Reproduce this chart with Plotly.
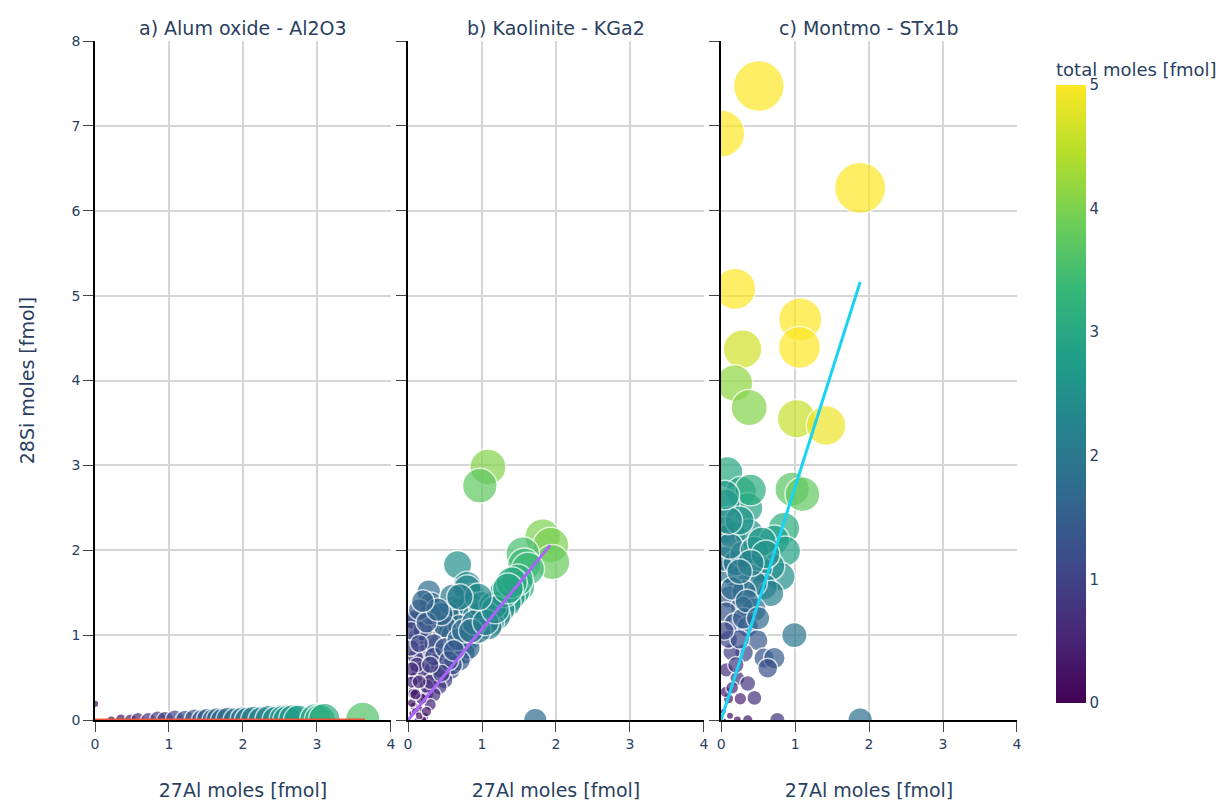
import numpy as np
import plotly.graph_objects as go
from plotly.subplots import make_subplots

titles = ["a) Alum oxide - Al2O3", "b) Kaolinite - KGa2", "c) Montmo - STx1b"]

# Panel a: Al2O3
a_al = [0.0, 0.22, 0.35, 0.48, 0.58, 0.72, 0.85, 0.95, 1.08, 1.22, 1.35, 1.45, 1.52, 1.6,
        1.66, 1.72, 1.8, 1.9, 2.0, 2.06, 2.15, 2.25, 2.35, 2.45, 2.55, 2.6, 2.68, 2.75,
        2.98, 3.04, 3.1, 3.62]
a_si = [0.19, 0.0, 0.01, 0.0, 0.01, 0.0, 0.01, 0.0, 0.01, 0.0, 0.01, 0.0, 0.01, 0.0,
        0.01, 0.0, 0.01, 0.0, 0.01, 0.0, 0.01, 0.0, 0.01, 0.0, 0.01, 0.0, 0.01, 0.0,
        0.01, 0.0, 0.01, 0.01]

# Panel b: Kaolinite
b_al = [1.08, 0.97, 1.82, 1.93, 1.95, 1.55, 1.57, 1.62, 1.5, 1.44, 1.38, 1.33, 1.25, 1.2,
        1.12, 1.09, 0.67, 0.8, 0.87, 0.8, 0.28, 0.33, 0.31, 0.6, 0.71, 0.85, 0.53, 0.91,
        1.0, 0.42, 0.1, 0.08, 0.4, 0.55, 0.6, 0.13, 0.85, 0.78, 0.28, 0.46, 0.64, 0.76,
        0.82, 0.22, 0.45, 0.1, 0.33, 0.51, 0.58, 0.13, 0.11, 0.31, 0.49, 0.42, 0.08, 0.07,
        0.24, 0.26, 0.35, 0.08, 0.22, 0.05, 0.15, 0.3, 0.02, 0.12, 0.2, 1.72, 0.7, 0.5,
        0.2, 0.35, 0.65, 0.95, 0.7, 0.6, 1.0, 0.4, 0.25, 0.18, 0.05, 0.04, 0.04, 0.3,
        0.15, 0.6, 1.15, 1.3, 1.48, 1.4,
        0.15, 0.2, 0.35, 0.5, 0.55, 0.68, 0.75, 0.9, 0.45, 0.25, 0.12, 0.3, 0.45, 0.62,
        0.85, 1.05, 1.18, 1.35, 0.95, 0.7, 0.4, 0.2, 0.05, 0.15, 0.3, 0.05, 0.1, 0.15,
        0.25, 0.1]
b_si = [2.98, 2.76, 2.16, 2.06, 1.86, 1.96, 1.83, 1.78, 1.57, 1.52, 1.45, 1.38, 1.3, 1.22,
        1.15, 1.1, 1.83, 1.59, 1.45, 1.55, 1.51, 1.33, 1.37, 1.31, 1.3, 1.35, 1.26, 1.22,
        1.25, 1.14, 1.16, 1.18, 1.14, 1.02, 1.0, 0.98, 0.98, 0.9, 0.95, 0.79, 0.75, 0.79,
        0.85, 0.79, 0.75, 0.74, 0.59, 0.55, 0.59, 0.59, 0.5, 0.51, 0.47, 0.39, 0.35, 0.31,
        0.27, 0.31, 0.3, 0.16, 0.04, 0.08, 0.12, 0.18, 0.02, 0.0, 0.0, 0.0, 1.1, 1.1,
        1.05, 0.9, 0.9, 1.05, 0.7, 0.65, 1.35, 0.6, 0.4, 0.25, 0.45, 0.85, 1.05, 1.25,
        1.3, 1.45, 1.35, 1.5, 1.65, 1.62,
        0.9, 0.6, 0.75, 0.85, 0.7, 0.95, 1.05, 1.15, 1.25, 1.15, 0.65, 0.45, 0.55, 0.82,
        1.05, 1.15, 1.3, 1.55, 1.45, 1.45, 1.3, 1.4, 0.6, 0.45, 0.65, 0.2, 0.1, 0.05,
        0.1, 0.3]

# Panel c: Montmorillonite
c_al = [0.51, 0.0, 1.88, 0.19, 1.07, 1.06, 0.29, 0.18, 0.38, 1.02, 1.42, 0.96, 1.1, 0.085,
        0.27, 0.36, 0.4, 0.06, 0.04, 0.15, 0.38, 0.85, 0.72, 0.87, 0.81, 0.67, 0.51, 0.58,
        0.67, 0.45, 0.22, 0.08, 0.11, 0.31, 0.45, 0.28, 0.07, 0.18, 0.36, 0.49, 0.99, 0.58,
        0.72, 0.63, 0.31, 0.14, 0.07, 0.22, 0.36, 0.45, 0.26, 0.1, 0.06, 0.36, 0.22, 0.76,
        1.88, 0.03, 0.12, 0.05, 0.15, 0.2, 0.1, 0.25, 0.05, 0.3, 0.15, 0.05, 0.2, 0.3,
        0.12, 0.25, 0.45, 0.55, 0.6, 0.4, 0.35, 0.5, 0.25, 0.1, 0.05]
c_si = [7.47, 6.91, 6.27, 5.08, 4.72, 4.39, 4.37, 3.97, 3.68, 3.55, 3.47, 2.72, 2.66, 2.92,
        2.69, 2.5, 2.71, 2.55, 2.24, 2.18, 2.2, 2.26, 2.12, 1.99, 1.69, 1.81, 1.79, 1.57,
        1.49, 1.61, 1.65, 1.75, 1.45, 1.51, 1.3, 1.33, 1.27, 1.14, 1.1, 0.94, 1.0, 0.73,
        0.73, 0.61, 0.79, 0.8, 0.59, 0.49, 0.43, 0.26, 0.25, 0.25, 0.33, 0.0, 0.0, 0.0,
        0.0, 0.1, 0.05, 0.0, 0.38, 0.65, 0.95, 0.95, 1.05, 1.2, 1.55, 1.9, 1.85, 1.95,
        2.05, 2.35, 2.0, 2.1, 1.95, 1.85, 1.4, 1.2, 1.75, 2.35, 2.65]

# Regression line end points
fit_x = [[0.0, 3.65], [0.0, 1.92], [0.0, 1.88]]
fit_y = [[0.0, 0.0], [0.0, 2.06], [0.0, 5.16]]
fit_colors = ["#EF553B", "#AB63FA", "#19D3F3"]

panels = [(a_al, a_si), (b_al, b_si), (c_al, c_si)]

fig = make_subplots(rows=1, cols=3, shared_yaxes=True, subplot_titles=titles,
                    horizontal_spacing=0.0186)

for i, (xs, ys) in enumerate(panels):
    xs = np.array(xs, dtype=float)
    ys = np.array(ys, dtype=float)
    tot = xs + ys
    sizes = 18.0 * np.sqrt(tot)
    fig.add_trace(go.Scatter(
        x=xs, y=ys, mode="markers",
        marker=dict(size=sizes, color=tot, coloraxis="coloraxis", opacity=0.7,
                    line=dict(color="white", width=1.5)),
        showlegend=False), row=1, col=i + 1)

for i in range(3):
    fig.add_trace(go.Scatter(x=fit_x[i], y=fit_y[i], mode="lines",
                             line=dict(color=fit_colors[i], width=3),
                             showlegend=False), row=1, col=i + 1)

font_col = "#2a3f5f"
for i in range(1, 4):
    fig.update_xaxes(range=[0, 4], dtick=1, showline=True, linecolor="black", linewidth=1.5,
                     ticks="outside", ticklen=10, tickcolor="#444", showgrid=True,
                     gridcolor="#d6d6d6", gridwidth=1.5, zeroline=False, automargin=False,
                     title=dict(text="27Al moles [fmol]", font=dict(size=19, color=font_col),
                                standoff=33),
                     tickfont=dict(size=14, color=font_col), row=1, col=i)
    fig.update_yaxes(range=[0, 8], dtick=1, showline=True, linecolor="black", linewidth=1.5,
                     ticks="outside", ticklen=10, tickcolor="#444", showgrid=True,
                     gridcolor="#d6d6d6", gridwidth=1.5, zeroline=False, automargin=False,
                     tickfont=dict(size=14, color=font_col), row=1, col=i)
fig.update_yaxes(title=dict(text="28Si moles [fmol]", font=dict(size=19, color=font_col),
                            standoff=32), row=1, col=1)

fig.update_annotations(font=dict(size=19, color=font_col))

fig.update_layout(
    width=1228, height=801,
    paper_bgcolor="white", plot_bgcolor="white",
    font=dict(family="Verdana, DejaVu Sans, sans-serif", color=font_col),
    margin=dict(l=95, r=210, t=41, b=81),
    coloraxis=dict(colorscale="Viridis", cmin=0, cmax=5,
                   colorbar=dict(title=dict(text="total moles [fmol]", font=dict(size=18)),
                                 x=1.0412, xanchor="left", xpad=0,
                                 y=0.025, yanchor="bottom", ypad=0,
                                 len=644, lenmode="pixels", thickness=30,
                                 outlinewidth=0, tickvals=[0, 1, 2, 3, 4, 5],
                                 tickfont=dict(size=15))),
)

fig.write_html("out.html", config={"displayModeBar": False},
               post_script="document.body.style.margin='0';document.body.style.overflow='hidden';")
